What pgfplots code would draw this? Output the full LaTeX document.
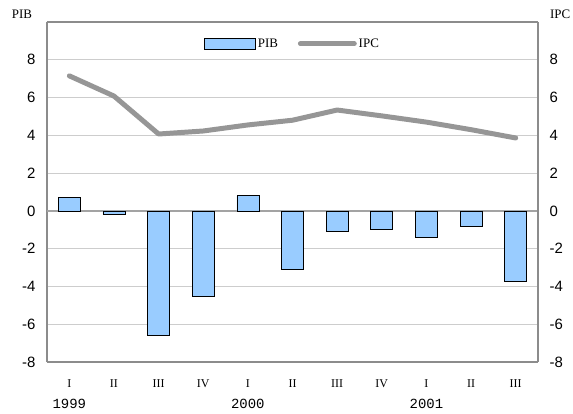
\documentclass[border=0pt]{standalone}
\usepackage{fontspec}
\setmainfont{Liberation Serif}
\setsansfont{Liberation Sans}
\setmonofont{Liberation Mono}
\usepackage{pgfplots}
\pgfplotsset{compat=1.18}
\definecolor{barblue}{RGB}{153,204,255}
\definecolor{linegray}{RGB}{150,150,150}
\definecolor{gridgray}{RGB}{205,205,205}
\definecolor{framegray}{RGB}{140,140,140}
\pgfplotsset{
  boxlegend/.style={legend image code/.code={\draw[##1] (0cm,-0.2cm) rectangle (1.8cm,0.2cm);}},
  linelegend/.style={legend image code/.code={\draw[##1] (0.05cm,0cm) -- (1.95cm,0cm);}},
}
\begin{document}
\begin{tikzpicture}[x=1bp,y=1bp]
\path[use as bounding box] (-47,-51) rectangle (526,362);
\begin{axis}[
  at={(0,0)}, anchor=south west,
  scale only axis, width=491bp, height=340bp,
  xmin=-0.5, xmax=10.5, ymin=-8, ymax=10,
  ytick={-8,-6,...,8},
  xtick={0,...,10},
  xticklabels={I,II,III,IV,I,II,III,IV,I,II,III},
  xticklabel style={font=\fontsize{12}{14}\selectfont, anchor=north, yshift=-14bp},
  extra x ticks={0,4,8},
  extra x tick labels={1999,2000,2001},
  extra x tick style={grid=none, major tick length=0pt,
    xticklabel style={font=\ttfamily\fontsize{14}{16}\selectfont, anchor=north, yshift=-20bp}},
  yticklabel style={font=\sffamily\fontsize{15}{17}\selectfont, xshift=-8bp},
  /pgf/number format/assume math mode=true,
  major tick length=0pt,
  ymajorgrids, grid style={gridgray, line width=1.2pt},
  axis line style={framegray, line width=1.5pt},
  axis y line*=left,
  enlargelimits=false,
  clip=false,
]
\draw[framegray!80, line width=1.8pt] (axis cs:-0.5,0) -- (axis cs:10.5,0);
\addplot[ybar, bar width=22bp, fill=barblue, draw=black, line width=0.7pt] coordinates {
(0,0.7) (1,-0.2) (2,-6.6) (3,-4.5) (4,0.8) (5,-3.1) (6,-1.1) (7,-1.0) (8,-1.4) (9,-0.8) (10,-3.75)};
\node[anchor=base, font=\fontsize{13}{15}\selectfont] at (rel axis cs:-0.051,1.01) {PIB};
\draw[framegray, line width=1.5pt] (rel axis cs:0,0) -- (rel axis cs:1,0);
\draw[framegray, line width=1.5pt] (rel axis cs:0,1) -- (rel axis cs:1,1);
\end{axis}
\begin{axis}[
  at={(0,0)}, anchor=south west,
  scale only axis, width=491bp, height=340bp,
  xmin=-0.5, xmax=10.5, ymin=-8, ymax=10,
  ytick={-8,-6,...,8},
  xtick=\empty,
  axis y line*=right, axis x line=none,
  yticklabel style={font=\sffamily\fontsize{15}{17}\selectfont, xshift=8bp},
  /pgf/number format/assume math mode=true,
  major tick length=0pt,
  axis line style={framegray, line width=1.5pt},
  legend style={at={(0.5,0.972)}, anchor=north, draw=none, fill=white, legend columns=2,
    font=\fontsize{13}{15}\selectfont, /tikz/every even column/.append style={column sep=18pt},
    inner xsep=10pt, inner ysep=5pt},
  legend cell align=left,
  clip=false,
]
\addlegendimage{fill=barblue, draw=black, line width=0.7pt, boxlegend}
\addlegendentry{PIB}
\addplot[linegray, line width=5pt, line cap=round, line join=round, linelegend] coordinates {
(0,7.15) (1,6.08) (2,4.07) (3,4.23) (4,4.55) (5,4.8) (6,5.34) (7,5.03) (8,4.7) (9,4.3) (10,3.86)};
\addlegendentry{IPC}
\node[anchor=base, font=\fontsize{13}{15}\selectfont] at (rel axis cs:1.045,1.01) {IPC};
\end{axis}
\end{tikzpicture}
\end{document}
